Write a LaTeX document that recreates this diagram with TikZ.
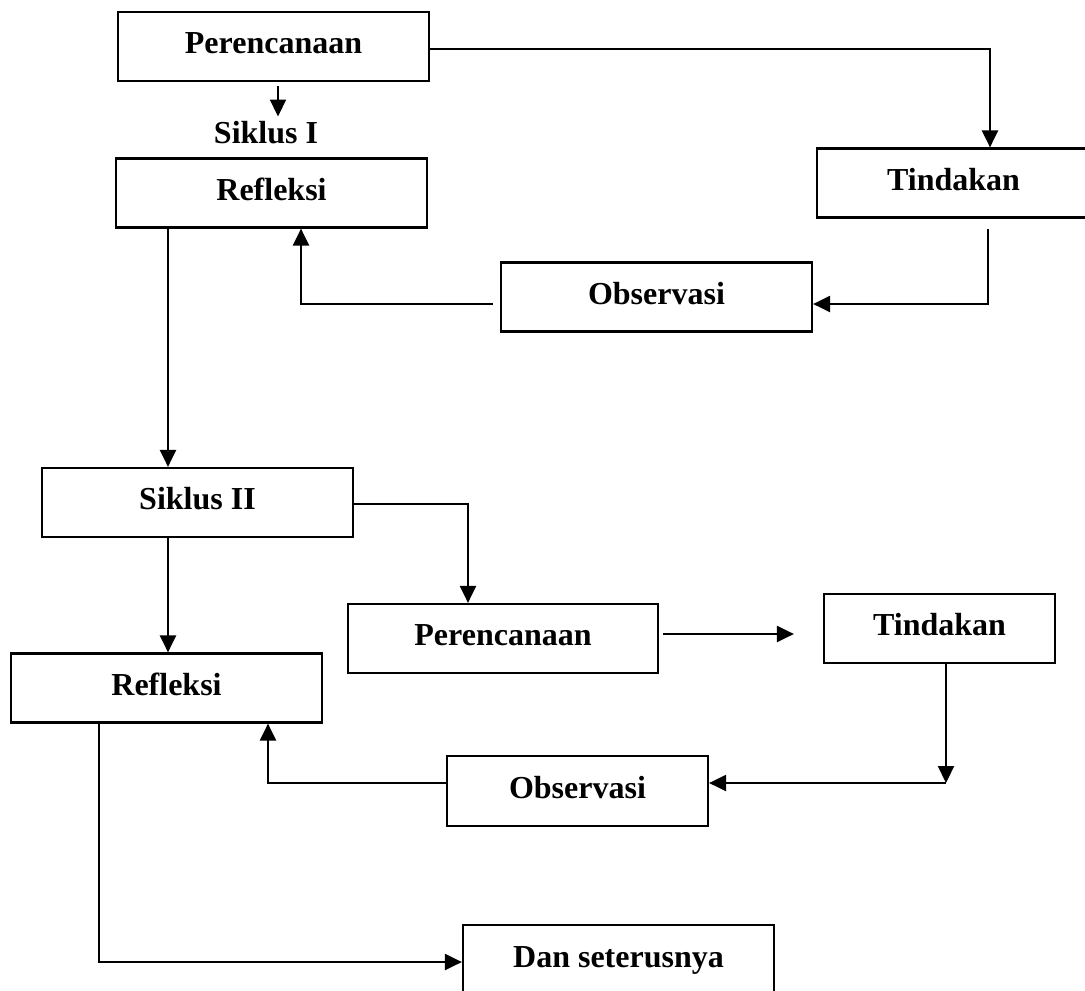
\documentclass[tikz,border=0pt]{standalone}
\usepackage{fontspec}
\setmainfont{Liberation Serif}
\usetikzlibrary{arrows.meta}
\begin{document}
\begin{tikzpicture}[x=1pt,y=-1pt,
  box/.style={draw, line width=2.2pt, inner sep=0pt, minimum width=311pt, minimum height=69pt,
    font=\bfseries\fontsize{32}{38}\selectfont, text height=22pt, text depth=8pt},
  lbl/.style={inner sep=0pt, font=\bfseries\fontsize{32}{38}\selectfont},
  arr/.style={line width=2.2pt, -{Triangle[length=17pt,width=16pt]}},
  ln/.style={line width=2.2pt}]
\useasboundingbox (0,0) rectangle (1085,991);
% nodes
\node[box] (p1) at (273.5,46.5) {Perencanaan};
\node[lbl] (s1) at (266,133) {Siklus I};
\node[box] (r1) at (271.5,193) {Refleksi};
\node[box, minimum width=273pt] (t1) at (953.5,183) {Tindakan};
\node[box] (o1) at (656.5,297) {Observasi};
\node[box] (s2) at (197.5,502.5) {Siklus II};
\node[box, minimum width=310pt] (p2) at (503,638.5) {Perencanaan};
\node[box, minimum width=231pt] (t2) at (939.5,628.5) {Tindakan};
\node[box] (r2) at (166.5,688) {Refleksi};
\node[box, minimum width=261pt, minimum height=70pt] (o2) at (577.5,791) {Observasi};
\node[box, minimum height=70pt] (d) at (618.5,960) {Dan seterusnya};
\coordinate (c2) at (946,783);
% connectors
\draw[arr, shorten <=4pt, shorten >=5pt] ([xshift=4.5pt]p1.south) -- ([xshift=4.5pt]p1.south |- s1.north);
\draw[arr] ([yshift=-2.5pt]p1.east) -| ([xshift=36.5pt]t1.north);
\draw[arr] ([xshift=34.5pt,yshift=-10pt]t1.south) |- ([yshift=-7pt]o1.east);
\draw[arr] ([xshift=-7pt,yshift=-7pt]o1.west) -| ([xshift=29.5pt]r1.south);
\draw[arr] ([xshift=-103.5pt]r1.south) -- ([xshift=-103.5pt]r1.south |- s2.north);
\draw[arr] ([yshift=-1.5pt]s2.east) -| ([xshift=-35pt]p2.north);
\draw[arr] ([xshift=-29.5pt]s2.south) -- ([xshift=-29.5pt]s2.south |- r2.north);
\draw[arr, shorten <=4pt, shorten >=29pt] ([yshift=4.5pt]p2.east) -- ([yshift=4.5pt]p2.east -| t2.west);
\draw[arr] ([xshift=6.5pt]t2.south) -- (c2);
\draw[arr] (c2) -- (c2 -| o2.east);
\draw[arr] ([yshift=8pt]o2.west) -| ([xshift=101.5pt]r2.south);
\draw[arr] ([xshift=-67.5pt,yshift=3pt]r2.south) |- ([yshift=-2pt]d.west);
\end{tikzpicture}
\end{document}
